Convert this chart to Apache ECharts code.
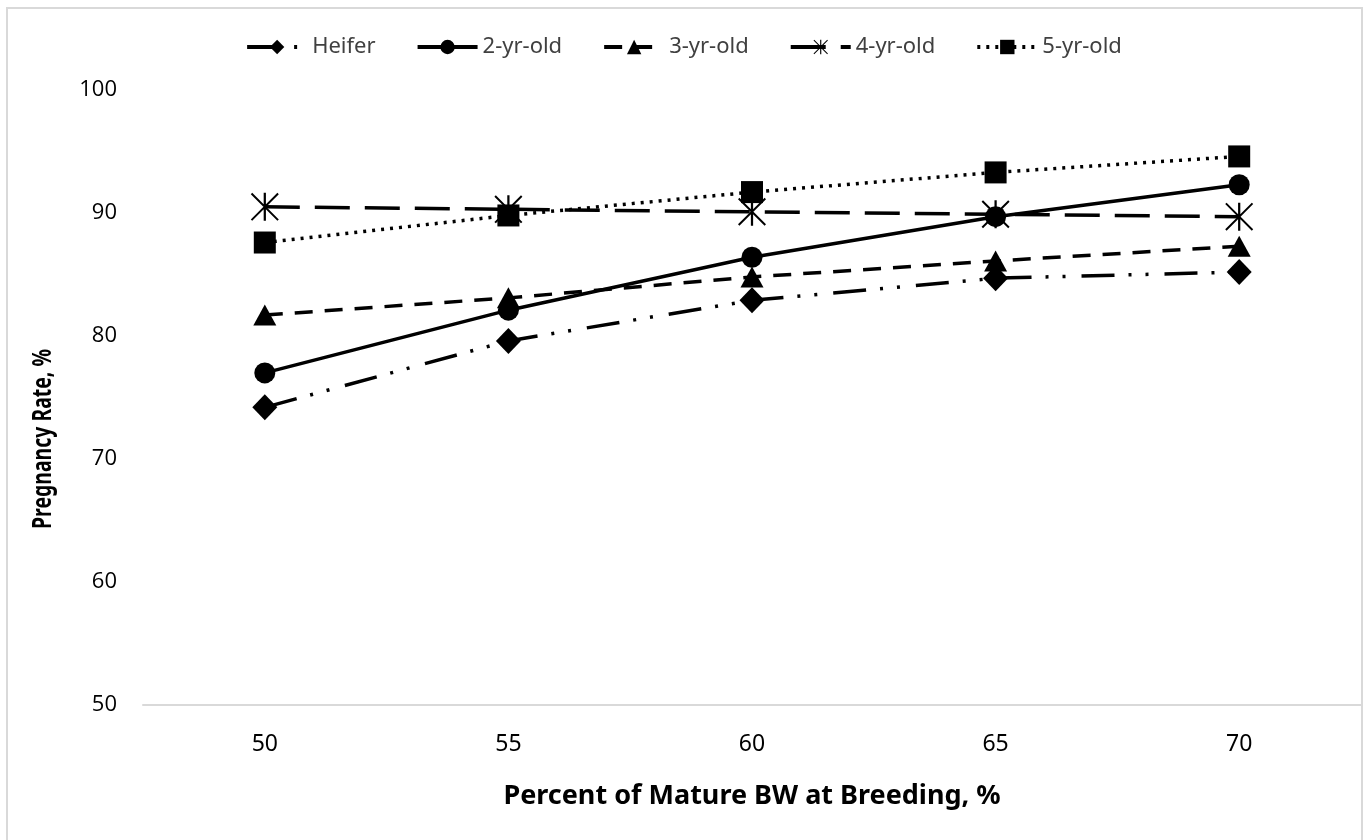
<!DOCTYPE html>
<html>
<head>
<meta charset="utf-8">
<script src="https://cdn.jsdelivr.net/npm/echarts@6/dist/echarts.min.js"></script>
<style>
html,body{margin:0;padding:0;background:#fff;}
#frame{position:absolute;left:6px;top:7px;width:1357px;height:840px;border:2px solid #d9d9d9;box-sizing:border-box;}
#chart{position:absolute;left:0;top:0;width:1367px;height:840px;}
</style>
</head>
<body>
<div id="frame"></div>
<div id="chart"></div>
<script>
const categories = ['50', '55', '60', '65', '70'];
const seriesNames = ['Heifer', '2-yr-old', '3-yr-old', '4-yr-old', '5-yr-old'];
const heifer = [74.2, 79.6, 82.9, 84.7, 85.2];
const yr2 = [77.0, 82.1, 86.4, 89.7, 92.3];
const yr3 = [81.7, 83.1, 84.8, 86.1, 87.3];
const yr4 = [90.5, 90.3, 90.1, 89.9, 89.7];
const yr5 = [87.6, 89.8, 91.7, 93.3, 94.6];
const yTicks = [50, 60, 70, 80, 90, 100];

const asterisk = 'path://M46,0L54,0L54,100L46,100Z M5,0L100,95L95,100L0,5Z M95,0L100,5L5,100L0,95Z';

function mk(name, data, symbol, size, dash) {
  return {
    name: name, type: 'line', data: data,
    symbol: symbol, symbolSize: size, showSymbol: true,
    lineStyle: { color: '#000', width: 3.5, type: dash, cap: 'butt' },
    itemStyle: { color: '#000', borderWidth: 0 },
    emphasis: { disabled: true }
  };
}

const chart = echarts.init(document.getElementById('chart'), null, { renderer: 'canvas' });
chart.setOption({
  animation: false,
  backgroundColor: 'transparent',
  legend: {
    top: 31, left: 'center',
    itemWidth: 60, itemHeight: 18, itemGap: 40,
    lineStyle: { width: 4 },
    textStyle: { fontFamily: 'Noto Sans', fontSize: 22, color: '#404040' },
    data: seriesNames
  },
  grid: { left: 143, right: 6, top: 90, bottom: 135, containLabel: false },
  xAxis: {
    type: 'category', data: categories, boundaryGap: true,
    axisLine: { lineStyle: { color: '#d9d9d9', width: 2 } },
    axisTick: { show: false },
    axisLabel: { fontFamily: 'Noto Sans', fontSize: 23, color: '#000', margin: 28 },
    name: 'Percent of Mature BW at Breeding, %', nameLocation: 'middle', nameGap: 78,
    nameTextStyle: { fontFamily: 'Noto Sans', fontWeight: 'bold', fontSize: 27, color: '#000' }
  },
  yAxis: {
    type: 'value', min: yTicks[0], max: yTicks[yTicks.length - 1], interval: 10,
    axisLine: { show: false }, axisTick: { show: false },
    splitLine: { show: false },
    axisLabel: { fontFamily: 'Open Sans', fontSize: 22, color: '#000', margin: 26 }
  },
  graphic: [{
    type: 'text', x: 43, y: 439, rotation: Math.PI / 2, scaleX: 0.72,
    style: { text: 'Pregnancy Rate, %', fontFamily: 'Noto Sans', fontWeight: 'bold', fontSize: 27, fill: '#000', align: 'center', verticalAlign: 'middle' }
  }],
  series: [
    mk(seriesNames[0], heifer, 'diamond', [25, 26], [33, 14, 3, 14, 3, 16]),
    mk(seriesNames[1], yr2, 'circle', 21, 'solid'),
    mk(seriesNames[2], yr3, 'triangle', [23, 21], [18, 12]),
    mk(seriesNames[3], yr4, asterisk, 28, [35, 15]),
    mk(seriesNames[4], yr5, 'rect', 22, [3, 6])
  ]
});
</script>
</body>
</html>
